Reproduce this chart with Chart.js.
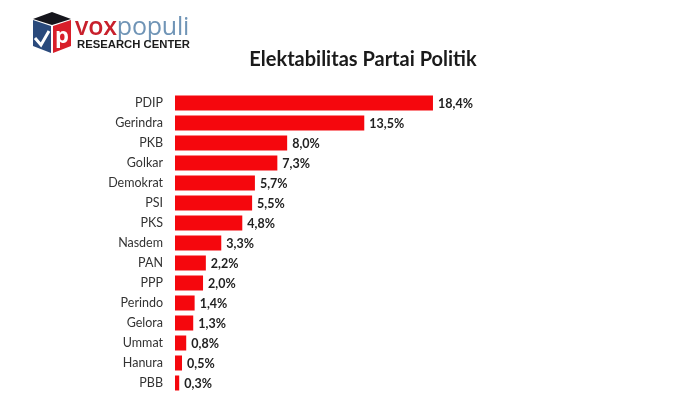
<!DOCTYPE html>
<html>
<head>
<meta charset="utf-8">
<script src="https://cdn.jsdelivr.net/npm/chart.js@4"></script>
<style>
  html, body { margin: 0; padding: 0; background: #fff; }
  #wrap { position: relative; width: 700px; height: 393px; overflow: hidden; }
  #wrap canvas { position: absolute; left: 0; top: 0; }
  .judul { position: absolute; left: 213px; width: 300px; top: 46px; text-align: center;
    font: bold 20px Lato, sans-serif; color: #1a1a1a; }
  .vox { position: absolute; left: 75px; top: 9px; font: 25px "Open Sans", sans-serif; letter-spacing: -0.2px; line-height: 32px; white-space: nowrap; }
  .vox b { color: #c8202c; font-weight: 600; }
  .vox span { color: #6f94b6; }
  .rc { position: absolute; left: 77px; top: 38px; font: bold 11.3px "Liberation Sans", sans-serif; color: #1c1c1c; white-space: nowrap; }
  svg { position: absolute; left: 0; top: 0; }
</style>
</head>
<body>
<div id="wrap">
  <canvas id="grafik" width="700" height="393"></canvas>
  <svg width="100" height="60">
    <polygon points="33,19 52,12 71,19 52,25" fill="#15151c"/>
    <polygon points="33,20 51,26 51,53 33,46" fill="#2a4a7c"/>
    <polygon points="53,26 71,20 71,46 53,53" fill="#d81f2a"/>
    <polyline points="35,38 41,45 49,31" fill="none" stroke="#fff" stroke-width="3"/>
    <text x="55" y="43" font-family="Open Sans" font-weight="bold" font-size="22" fill="#fff">p</text>
  </svg>
  <div class="vox"><b>vox</b><span>populi</span></div>
  <div class="rc">RESEARCH CENTER</div>
  <div class="judul">Elektabilitas Partai Politik</div>
</div>
<script>
const partai = ['PDIP', 'Gerindra', 'PKB', 'Golkar', 'Demokrat', 'PSI', 'PKS', 'Nasdem', 'PAN', 'PPP', 'Perindo', 'Gelora', 'Ummat', 'Hanura', 'PBB'];
const elektabilitas = [18.4, 13.5, 8.0, 7.3, 5.7, 5.5, 4.8, 3.3, 2.2, 2.0, 1.4, 1.3, 0.8, 0.5, 0.3];

// label nilai di ujung batang, pakai koma
const labelNilai = {
  id: 'labelNilai',
  afterDatasetsDraw(chart) {
    const { ctx } = chart;
    const meta = chart.getDatasetMeta(0);
    ctx.save();
    ctx.font = 'bold 12.5px Lato, sans-serif';
    ctx.fillStyle = '#222';
    ctx.textBaseline = 'middle';
    meta.data.forEach((bar, i) => {
      ctx.fillText(elektabilitas[i].toFixed(1).replace('.', ',') + '%', bar.x + 5, bar.y + 1);
    });
    ctx.restore();
  }
};

new Chart(document.getElementById('grafik'), {
  type: 'bar',
  data: {
    labels: partai,
    datasets: [{
      data: elektabilitas,
      backgroundColor: '#f5070d',
      barPercentage: 0.75,
      categoryPercentage: 1
    }]
  },
  options: {
    indexAxis: 'y',
    responsive: false,
    maintainAspectRatio: false,
    animation: false,
    layout: { padding: { top: 93, right: 104.4, bottom: 0, left: 0 } },
    plugins: {
      legend: { display: false },
      tooltip: { enabled: false }
    },
    scales: {
      x: { display: false, min: 0, max: 30 },
      y: {
        afterFit(scale) {
          scale.width = 175;
          scale.paddingTop = 0;
          scale.paddingBottom = 0;
        },
        grid: { display: false },
        border: { display: false },
        ticks: {
          color: '#333',
          padding: 4,
          autoSkip: false,
          font: { family: 'Lato, sans-serif', size: 12.5 }
        }
      }
    }
  },
  plugins: [labelNilai]
});
</script>
</body>
</html>
